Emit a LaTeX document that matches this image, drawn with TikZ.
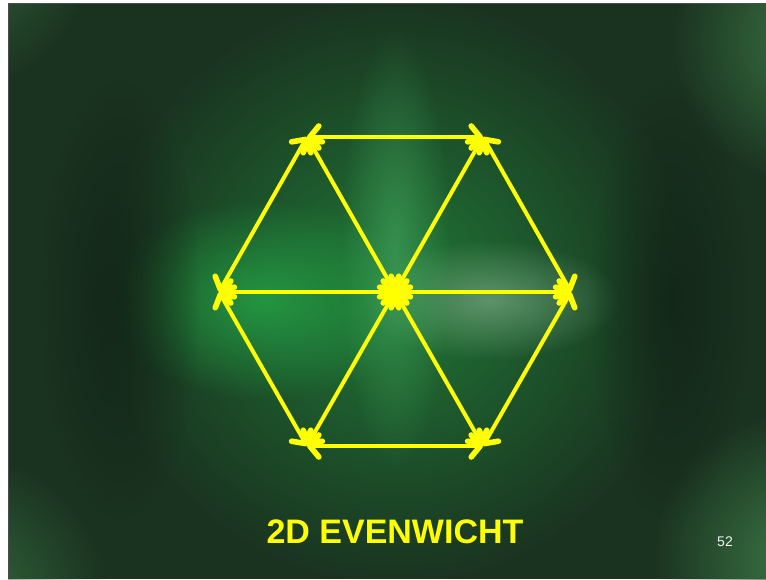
\documentclass[tikz,border=0pt]{standalone}
\usepackage{fontspec}
\setmainfont{Liberation Sans}
\usetikzlibrary{arrows.meta,fadings}
\definecolor{bgbase}{RGB}{26,50,32}
\definecolor{glow}{RGB}{35,150,65}
\definecolor{glowgrey}{RGB}{110,160,120}
\definecolor{cornergreen}{RGB}{60,120,70}
\definecolor{slideyellow}{RGB}{255,255,0}
\tikzfading[name=softspot, inner color=transparent!0, outer color=transparent!100]
\tikzset{
  x=1pt,y=-1pt,
  barbtip/.tip={Straight Barb[length=9pt,width=22pt,line width=0pt 1.4,round]},
  vec/.style={draw=slideyellow, line width=4pt, line cap=round, barbtip-barbtip},
  glowspot/.style={path fading=softspot},
}
\begin{document}
\begin{tikzpicture}
\useasboundingbox (0,0) rectangle (766,579);
\fill[white] (0,0) rectangle (766,579);
% slide background
\begin{scope}
\clip (8,3) rectangle (766,579);
\fill[bgbase] (8,3) rectangle (766,579);
\fill[cornergreen, glowspot, opacity=0.8] (-60,-60) ellipse (160 and 160);
\fill[cornergreen, glowspot, opacity=0.8] (-40,600) ellipse (150 and 150);
\fill[cornergreen, glowspot] (820,40) ellipse (150 and 150);
\fill[cornergreen, glowspot] (800,560) ellipse (150 and 150);
\fill[glow, glowspot, opacity=0.7] (395,290) ellipse (300 and 300);
\fill[glow, glowspot] (265,300) ellipse (160 and 100);
\fill[glowgrey, glowspot, opacity=0.8] (490,300) ellipse (130 and 60);
\fill[glow!85!white, glowspot, opacity=0.6] (395,250) ellipse (55 and 220);
\fill[bgbase!70!black, glowspot, opacity=0.8] (120,300) ellipse (80 and 220);
\fill[bgbase!70!black, glowspot, opacity=0.8] (670,300) ellipse (80 and 220);
\end{scope}
\draw[black!70, line width=1pt] (8,579) -- (8,3) -- (766,3);
% hexagon points
\coordinate (c) at (395,292);
\coordinate (l) at (219,292);
\coordinate (r) at (571,292);
\coordinate (tl) at (307,137);
\coordinate (tr) at (483,137);
\coordinate (bl) at (307,446);
\coordinate (br) at (483,446);
% spokes
\foreach \p in {l,r,tl,tr,bl,br}{\draw[vec] (c) -- (\p);}
% edges
\draw[vec] (tl) -- (tr);
\draw[vec] (tr) -- (r);
\draw[vec] (r) -- (br);
\draw[vec] (br) -- (bl);
\draw[vec] (bl) -- (l);
\draw[vec] (l) -- (tl);
% texts
\node[text=slideyellow, font=\fontsize{34}{36}\selectfont\bfseries] (title) at (395,532) {2D EVENWICHT};
\node[text=white!90!gray, font=\fontsize{14}{16}\selectfont] (num) at (725,542) {52};
\end{tikzpicture}
\end{document}
